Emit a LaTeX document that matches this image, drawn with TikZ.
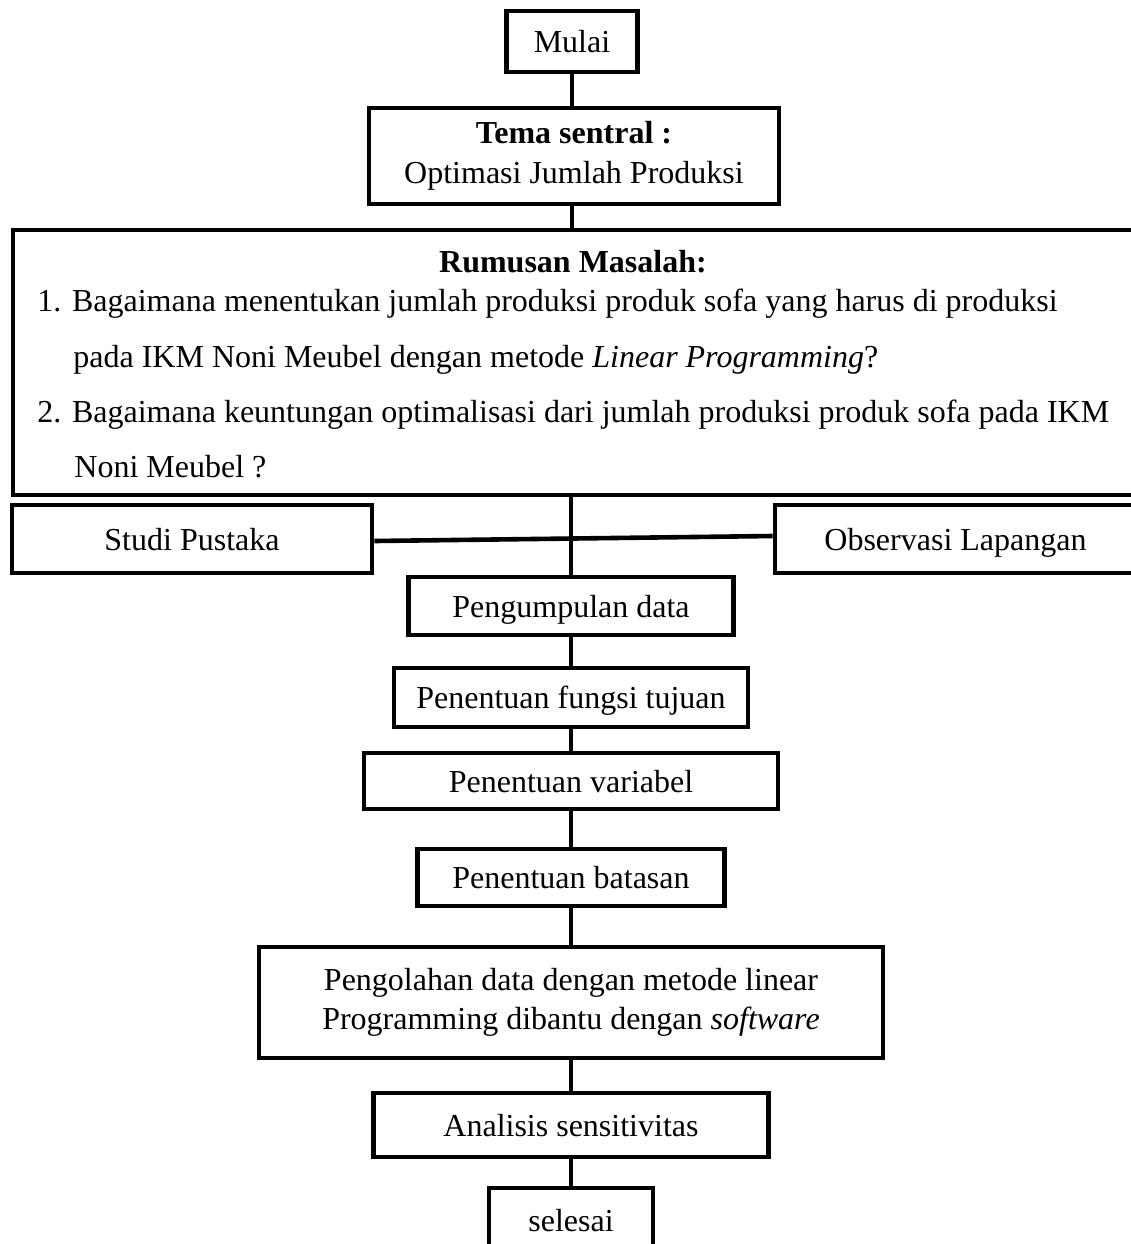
\documentclass[tikz,border=0pt]{standalone}
\usepackage{fontspec}
\setmainfont{Liberation Serif}
\tikzset{
  kotak/.style={draw, line width=2.3pt, rectangle, align=center, inner sep=0pt, font=\fontsize{16}{20}\selectfont},
  kotaksatu/.style={kotak, text height=12pt, text depth=1pt},
  garis/.style={line width=2.3pt},
  baris/.style={anchor=base west, inner sep=0pt, font=\fontsize{16}{20}\selectfont}
}
\begin{document}
\begin{tikzpicture}[x=0.5pt,y=-0.5pt]
    \useasboundingbox (0,0) rectangle (1131,1244);
    \clip (0,0) rectangle (1131,1244);
    %awal
    \node[kotaksatu, minimum width=65.5pt, minimum height=30.5pt] (mulai) at (572,41.5) {Mulai};
    \node[kotak, minimum width=205pt, minimum height=48pt] (tema) at (574,156) {\textbf{Tema sentral :}\\Optimasi Jumlah Produksi};
    %rumusan masalah
    \node[kotak, minimum width=561.5pt, minimum height=132.5pt] (rumusan) at (574.5,362.5) {};
    \node[baris, anchor=base] (judul) at (573,272) {\textbf{Rumusan Masalah:}};
    \node[baris] (soal1) at (37,311) {1. Bagaimana menentukan jumlah produksi produk sofa yang harus di produksi};
    \node[baris] (soal1b) at (73,367) {pada IKM Noni Meubel dengan metode \textit{Linear Programming}?};
    \node[baris] (soal2) at (37,422) {2. Bagaimana keuntungan optimalisasi dari jumlah produksi produk sofa pada IKM};
    \node[baris] (soal2b) at (74,477) {Noni Meubel ?};
    %studi dan observasi
    \node[kotaksatu, minimum width=180pt, minimum height=34pt] (studi) at (192,539) {Studi Pustaka};
    \node[kotaksatu, minimum width=180.5pt, minimum height=34pt] (obs) at (955.5,539) {Observasi Lapangan};
    %langkah
    \node[kotaksatu, minimum width=162.5pt, minimum height=29pt] (kumpul) at (571,606) {Pengumpulan data};
    \node[kotaksatu, minimum width=177pt, minimum height=29.5pt] (fungsi) at (571,697.5) {Penentuan fungsi tujuan};
    \node[kotaksatu, minimum width=207pt, minimum height=28pt] (variabel) at (571,781) {Penentuan variabel};
    \node[kotaksatu, minimum width=153.5pt, minimum height=28.5pt] (batasan) at (571,877.5) {Penentuan batasan};
    \node[kotak, minimum width=312pt, minimum height=55.5pt, font=\fontsize{16}{19.5}\selectfont] (olah) at (571,1002.5) {Pengolahan data dengan metode linear\\Programming dibantu dengan \textit{software}};
    \node[kotaksatu, minimum width=197.5pt, minimum height=32pt] (analisis) at (571,1125) {Analisis sensitivitas};
    \node[kotaksatu, minimum width=82pt, minimum height=32pt] (selesai) at (571,1220) {selesai};
    %garis
    \draw[garis] (mulai.south) -- (mulai.south |- tema.north);
    \draw[garis] (tema.south -| mulai.south) -- (rumusan.north -| mulai.south);
    \draw[garis] (rumusan.south -| kumpul.north) -- (kumpul.north);
    \draw[garis] ([yshift=-1pt]studi.east) -- ([yshift=1.5pt]obs.west);
    \draw[garis] (kumpul) -- (fungsi);
    \draw[garis] (fungsi) -- (variabel);
    \draw[garis] (variabel) -- (batasan);
    \draw[garis] (batasan) -- (olah);
    \draw[garis] (olah) -- (analisis);
    \draw[garis] (analisis) -- (selesai);
\end{tikzpicture}
\end{document}
